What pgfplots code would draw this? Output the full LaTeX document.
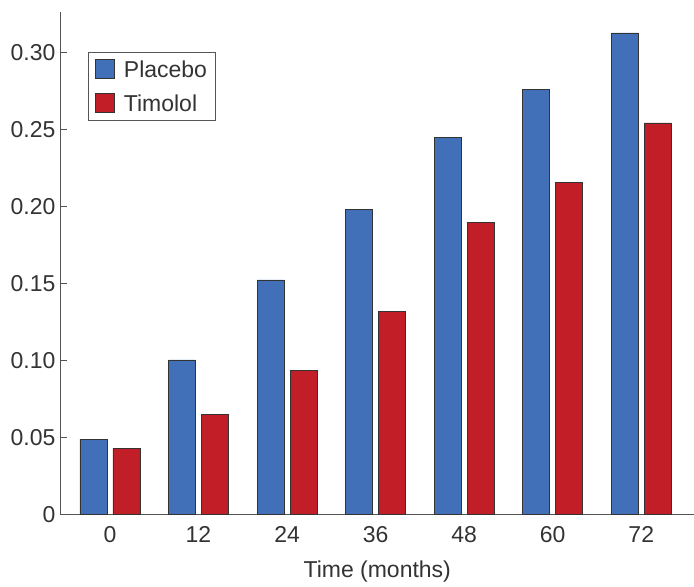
\documentclass[border=0pt]{standalone}
\usepackage{pgfplots}
\pgfplotsset{compat=1.18}
\usepackage{fontspec}
\setmainfont{Liberation Sans}
\definecolor{pbo}{HTML}{4270B8}
\definecolor{tim}{HTML}{C21E28}
\definecolor{axgray}{HTML}{555555}
\definecolor{txt}{HTML}{333333}
\pgfplotstableread{
x placebo timolol
0 0.049 0.043
1 0.1005 0.065
2 0.1525 0.0935
3 0.198 0.132
4 0.245 0.190
5 0.276 0.216
6 0.313 0.2545
}\datatable
\begin{document}
\begin{tikzpicture}
\begin{axis}[
  name=ax,
  scale only axis,
  width=633pt, height=503pt,
  ymin=0, ymax=0.3266,
  xmin=-0.553, xmax=6.59,
  axis x line=bottom, axis y line=left,
  axis line style={axgray, line width=1pt, -},
  ybar=6pt, bar width=27pt,
  xtick={0,1,2,3,4,5,6},
  xticklabels={0,12,24,36,48,60,72},
  x tick style={draw=none},
  ytick={0,0.05,0.10,0.15,0.20,0.25,0.30},
  yticklabels={0,0.05,0.10,0.15,0.20,0.25,0.30},
  y tick style={axgray, line width=1pt},
  major tick length=6pt,
  tick align=inside,
  tick label style={font=\fontsize{23}{27}\selectfont, text=txt},
  /pgf/number format/assume math mode=true,
  xticklabel style={font=\fontsize{23}{27}\selectfont, text=txt, yshift=-8pt},
  yticklabel style={font=\fontsize{23}{27}\selectfont, text=txt, xshift=-2pt},
  xlabel={Time (months)},
  xlabel style={font=\fontsize{23}{27}\selectfont, text=txt, yshift=-12pt},
  legend style={at={(0.043,0.92)}, anchor=north west, draw=axgray, line width=0.8pt,
    font=\fontsize{23}{27}\selectfont, text=txt, inner xsep=6pt, inner ysep=6pt,
    row sep=12pt},
  legend cell align=left,
  legend image code/.code={\draw[#1, draw=txt, line width=0.8pt] (0pt,-9pt) rectangle (19pt,10pt); \path[draw=none,fill=none] (0pt,0pt) rectangle (27pt,1pt);},
  clip=false,
]
\addplot[fill=pbo, draw=txt, line width=0.8pt] table[x=x, y=placebo] {\datatable};
\addplot[fill=tim, draw=txt, line width=0.8pt] table[x=x, y=timolol] {\datatable};
\legend{Placebo, Timolol}
\end{axis}
\path (ax.south west) ++(-61pt,-67pt) rectangle ++(694pt,582pt);
\end{tikzpicture}
\end{document}
